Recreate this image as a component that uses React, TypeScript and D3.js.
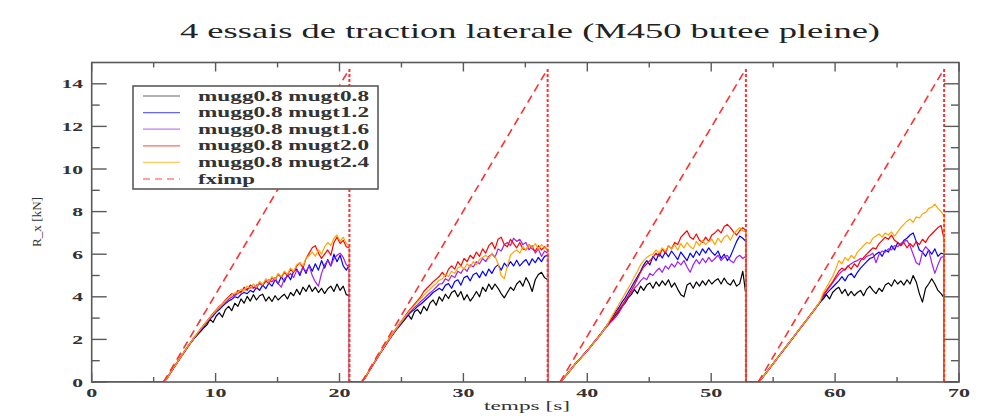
import React, { useEffect, useRef } from "react";
import * as d3 from "d3";

// time grid inside one test (s, from test start)
const relTime = [
  0, 0.25, 0.5, 0.75, 1, 1.25, 1.5, 1.75, 2, 2.25, 2.5, 2.75, 3, 3.25, 3.5, 3.75,
  4, 4.25, 4.5, 4.75, 5, 5.25, 5.5, 5.75, 6, 6.25, 6.5, 6.75, 7, 7.25, 7.5, 7.75,
  8, 8.25, 8.5, 8.75, 9, 9.25, 9.5, 9.75, 10, 10.25, 10.5, 10.75, 11, 11.25, 11.5,
  11.75, 12, 12.25, 12.5, 12.75, 13, 13.25, 13.5, 13.75, 14, 14.25, 14.5, 14.75, 15,
];
const testStarts = [5.8, 21.8, 37.8, 53.8];
const testEnds = [20.8, 36.8, 52.8, 68.8];

const mugt08 = [
  [0, 0.15, 0.38, 0.6, 0.82, 1.04, 1.26, 1.47, 1.68, 1.88, 2.06, 2.22, 2.38, 2.55, 2.68, 2.95, 2.8, 3.1, 3.25, 3.05, 3.4, 3.55, 3.35, 3.7, 3.55, 3.9, 3.7, 4.02, 3.8, 4.1, 3.85, 4.05, 4.12, 3.8, 4.0, 3.78, 4.05, 3.85, 4.0, 4.12, 3.9, 4.2, 4.05, 4.35, 4.1, 4.45, 4.25, 4.55, 4.25, 4.45, 4.2, 4.4, 4.15, 4.38, 4.5, 4.25, 4.6, 4.3, 4.5, 4.1, 4.05],
  [0, 0.18, 0.42, 0.66, 0.9, 1.13, 1.36, 1.58, 1.8, 2.02, 2.22, 2.42, 2.6, 2.78, 2.95, 3.15, 2.95, 3.3, 3.4, 3.2, 3.55, 3.35, 3.7, 3.85, 3.6, 4.0, 3.8, 4.12, 3.92, 4.2, 4.3, 4.0, 4.25, 3.85, 4.1, 3.8, 4.0, 4.25, 4.0, 4.45, 4.25, 4.6, 4.35, 4.6, 4.4, 4.15, 3.95, 4.2, 4.45, 4.3, 4.6, 4.75, 4.5, 4.9, 4.65, 4.25, 4.8, 5.05, 5.15, 4.9, 4.8],
  [0, 0.14, 0.32, 0.5, 0.68, 0.86, 1.02, 1.18, 1.34, 1.5, 1.68, 1.86, 2.04, 2.22, 2.42, 2.6, 2.78, 2.95, 3.15, 3.3, 3.55, 3.7, 3.95, 4.1, 4.35, 4.15, 4.5, 4.3, 4.55, 4.65, 4.4, 4.7, 4.5, 4.75, 4.55, 4.8, 4.45, 4.65, 4.35, 4.1, 4.0, 4.55, 4.65, 4.4, 4.7, 4.5, 4.75, 4.55, 4.8, 4.6, 4.75, 4.85, 4.6, 4.88, 4.65, 4.55, 4.8, 4.5, 4.62, 5.2, 4.1],
  [0, 0.15, 0.33, 0.52, 0.71, 0.9, 1.09, 1.28, 1.47, 1.66, 1.85, 2.04, 2.23, 2.42, 2.61, 2.8, 2.99, 3.18, 3.37, 3.56, 3.75, 3.9, 4.1, 3.9, 4.2, 4.35, 4.45, 4.15, 4.35, 4.05, 4.25, 4.05, 4.2, 4.3, 4.05, 4.35, 4.5, 4.3, 4.15, 4.4, 4.25, 4.55, 4.65, 4.5, 4.8, 4.6, 4.75, 4.55, 4.8, 4.6, 5.0, 4.7, 4.15, 3.75, 4.4, 4.6, 4.85, 4.6, 4.3, 4.15, 3.95],
];
const mugt12 = [
  [0, 0.15, 0.38, 0.6, 0.82, 1.04, 1.26, 1.47, 1.68, 1.89, 2.08, 2.26, 2.44, 2.6, 2.78, 2.95, 3.1, 3.28, 3.4, 3.55, 3.68, 3.8, 3.88, 4.0, 3.95, 4.12, 4.2, 4.15, 4.3, 4.22, 4.45, 4.3, 4.55, 4.38, 4.65, 4.5, 4.8, 4.6, 4.95, 4.7, 5.05, 4.8, 5.2, 5.3, 5.0, 5.4, 5.1, 5.5, 5.2, 5.55, 5.25, 5.7, 5.35, 5.75, 5.45, 6.0, 5.65, 5.95, 5.45, 5.25, 5.5],
  [0, 0.18, 0.43, 0.67, 0.91, 1.14, 1.37, 1.6, 1.82, 2.04, 2.25, 2.45, 2.65, 2.84, 3.0, 3.15, 3.3, 3.4, 3.55, 3.65, 3.78, 3.92, 4.05, 4.2, 4.3, 4.4, 4.3, 4.55, 4.62, 4.4, 4.72, 4.8, 4.55, 4.9, 4.98, 4.75, 5.05, 5.12, 4.9, 5.2, 4.98, 5.3, 5.1, 5.38, 5.5, 5.25, 5.58, 5.4, 5.65, 5.45, 5.72, 5.45, 5.62, 5.75, 5.48, 5.78, 5.6, 5.85, 5.65, 5.9, 5.95],
  [0, 0.13, 0.31, 0.5, 0.69, 0.87, 1.03, 1.19, 1.35, 1.52, 1.7, 1.88, 2.06, 2.24, 2.44, 2.64, 2.85, 3.05, 3.3, 3.5, 3.75, 3.95, 4.2, 4.45, 4.7, 4.95, 5.2, 5.5, 5.7, 5.5, 5.9, 5.7, 6.05, 5.82, 6.1, 5.88, 6.15, 5.95, 5.75, 6.1, 5.9, 5.7, 6.05, 5.85, 6.15, 5.95, 6.25, 6.05, 6.3, 6.1, 5.95, 6.15, 5.8, 6.0, 5.7, 5.9, 6.25, 6.6, 6.85, 6.75, 6.6],
  [0, 0.14, 0.32, 0.51, 0.7, 0.89, 1.08, 1.27, 1.46, 1.65, 1.84, 2.03, 2.22, 2.41, 2.6, 2.79, 2.98, 3.17, 3.36, 3.55, 3.76, 4.0, 4.15, 4.3, 4.45, 4.6, 4.75, 4.95, 4.75, 5.0, 5.1, 4.9, 5.15, 5.35, 5.5, 5.65, 5.8, 5.85, 6.0, 6.1, 5.9, 6.2, 6.1, 6.4, 6.2, 6.55, 6.4, 6.65, 6.75, 6.9, 7.0, 6.6, 6.2, 6.1, 5.9, 6.2, 6.0, 6.25, 5.9, 6.05, 6.0],
];
const mugt16 = [
  [0, 0.14, 0.37, 0.6, 0.82, 1.05, 1.27, 1.48, 1.7, 1.9, 2.1, 2.28, 2.46, 2.64, 2.82, 3.0, 3.16, 3.32, 3.48, 3.6, 3.75, 3.88, 3.98, 4.08, 4.15, 4.25, 4.3, 4.38, 4.45, 4.4, 4.55, 4.62, 4.55, 4.72, 4.8, 4.7, 4.9, 4.62, 4.45, 4.85, 4.95, 5.1, 4.9, 5.25, 5.1, 5.35, 5.2, 5.45, 5.0, 4.7, 4.5, 5.1, 5.5, 5.7, 5.45, 5.8, 5.95, 6.05, 5.85, 5.5, 5.4],
  [0, 0.18, 0.43, 0.67, 0.9, 1.13, 1.36, 1.58, 1.8, 2.02, 2.23, 2.44, 2.64, 2.84, 3.02, 3.2, 3.35, 3.5, 3.62, 3.78, 3.9, 4.05, 4.18, 4.3, 4.45, 4.6, 4.62, 4.85, 4.75, 5.0, 4.9, 5.2, 5.1, 5.35, 5.2, 5.5, 5.4, 5.65, 5.55, 5.8, 5.65, 5.9, 6.0, 5.85, 6.25, 6.15, 6.45, 6.55, 6.4, 6.75, 6.6, 6.7, 6.45, 6.55, 6.2, 6.4, 6.05, 6.25, 5.9, 6.15, 6.05],
  [0, 0.14, 0.33, 0.51, 0.69, 0.86, 1.01, 1.17, 1.33, 1.49, 1.67, 1.85, 2.02, 2.2, 2.4, 2.58, 2.75, 2.9, 3.05, 3.25, 3.5, 3.75, 4.0, 4.2, 4.4, 4.55, 4.75, 4.9, 4.8, 5.1, 5.0, 5.2, 5.35, 5.15, 5.45, 5.3, 5.55, 5.4, 5.65, 5.5, 5.7, 5.4, 5.15, 5.5, 5.75, 5.55, 5.8, 5.6, 5.85, 5.65, 5.8, 5.95, 5.7, 5.85, 5.95, 5.7, 5.6, 5.85, 5.95, 5.8, 5.9],
  [0, 0.15, 0.34, 0.53, 0.72, 0.91, 1.1, 1.29, 1.48, 1.67, 1.86, 2.05, 2.24, 2.43, 2.62, 2.81, 3.0, 3.19, 3.38, 3.57, 3.78, 4.05, 4.25, 4.45, 4.65, 4.85, 5.05, 5.2, 5.3, 5.45, 5.55, 5.65, 5.7, 5.8, 5.75, 5.9, 5.95, 6.05, 5.6, 6.0, 6.15, 6.1, 6.25, 6.2, 6.4, 6.35, 6.5, 6.6, 6.65, 6.4, 6.0, 5.6, 5.5, 6.1, 6.35, 6.2, 5.6, 5.1, 5.5, 5.85, 5.9],
];
const mugt20 = [
  [0, 0.16, 0.39, 0.62, 0.84, 1.06, 1.28, 1.5, 1.7, 1.92, 2.12, 2.3, 2.5, 2.68, 2.86, 3.04, 3.22, 3.38, 3.55, 3.68, 3.85, 4.0, 4.15, 4.05, 4.3, 4.2, 4.45, 4.3, 4.55, 4.45, 4.4, 4.68, 4.55, 4.75, 4.62, 4.9, 4.8, 5.05, 4.9, 5.15, 5.0, 5.3, 5.15, 5.45, 5.6, 5.35, 5.8, 6.05, 6.3, 6.4, 6.05, 5.8, 6.0, 6.2, 5.95, 6.55, 6.8, 6.5, 6.65, 6.35, 6.3],
  [0, 0.19, 0.44, 0.68, 0.92, 1.16, 1.39, 1.62, 1.85, 2.07, 2.28, 2.5, 2.7, 2.9, 3.1, 3.3, 3.48, 3.65, 3.82, 4.0, 4.25, 4.4, 4.55, 4.7, 4.82, 4.95, 5.15, 4.95, 5.3, 5.45, 5.3, 5.65, 5.45, 5.8, 5.65, 5.95, 5.8, 6.1, 5.9, 6.25, 6.05, 6.4, 6.55, 6.25, 6.7, 6.8, 6.45, 6.35, 6.7, 6.5, 6.3, 6.55, 6.25, 6.2, 6.45, 6.25, 6.15, 6.4, 6.2, 6.35, 6.2],
  [0, 0.15, 0.32, 0.5, 0.67, 0.85, 1.02, 1.18, 1.35, 1.51, 1.69, 1.87, 2.05, 2.23, 2.43, 2.63, 2.8, 3.0, 3.2, 3.4, 3.6, 3.82, 4.05, 4.3, 4.55, 4.85, 5.15, 5.4, 5.55, 5.7, 5.85, 6.05, 5.9, 6.25, 6.05, 6.4, 6.25, 6.55, 6.45, 6.8, 6.95, 7.1, 6.8, 6.7, 6.95, 6.65, 6.55, 6.8, 6.6, 6.9, 7.0, 7.15, 7.0, 7.3, 7.4, 7.25, 7.05, 6.9, 7.1, 7.25, 7.1],
  [0, 0.16, 0.33, 0.51, 0.7, 0.9, 1.1, 1.28, 1.46, 1.66, 1.84, 2.04, 2.22, 2.42, 2.6, 2.8, 2.98, 3.18, 3.36, 3.56, 3.78, 4.1, 4.3, 4.5, 4.7, 4.95, 5.2, 5.35, 5.25, 5.45, 5.3, 5.55, 5.4, 5.7, 5.85, 6.0, 6.15, 6.3, 6.25, 6.5, 6.65, 6.8, 6.7, 6.9, 6.65, 6.55, 6.4, 6.55, 6.3, 6.5, 6.35, 6.6, 6.45, 6.7, 6.55, 6.8, 6.95, 7.1, 7.25, 7.35, 6.7],
];
const mugt24 = [
  [0, 0.15, 0.38, 0.61, 0.83, 1.05, 1.27, 1.49, 1.7, 1.91, 2.11, 2.3, 2.49, 2.67, 2.85, 3.02, 3.2, 3.36, 3.52, 3.66, 3.82, 3.95, 4.08, 4.18, 4.2, 4.35, 4.28, 4.5, 4.38, 4.6, 4.45, 4.72, 4.58, 4.85, 4.7, 4.95, 4.8, 5.1, 4.95, 5.2, 5.05, 5.35, 5.2, 5.5, 5.6, 5.45, 5.8, 5.95, 6.1, 5.9, 6.2, 6.0, 6.35, 6.55, 6.4, 6.75, 6.9, 6.6, 6.8, 6.5, 6.4],
  [0, 0.19, 0.44, 0.68, 0.92, 1.15, 1.38, 1.61, 1.84, 2.06, 2.27, 2.48, 2.68, 2.88, 3.08, 3.26, 3.44, 3.6, 3.76, 3.92, 4.08, 4.22, 4.35, 4.5, 4.62, 4.78, 4.85, 5.05, 4.95, 5.2, 5.1, 5.35, 5.45, 5.3, 5.55, 5.4, 5.65, 5.5, 5.75, 5.85, 5.95, 5.8, 6.05, 5.9, 5.55, 5.0, 4.85, 5.45, 5.95, 6.1, 6.2, 6.05, 6.35, 6.2, 6.45, 6.3, 6.5, 6.25, 6.45, 6.3, 6.25],
  [0, 0.14, 0.32, 0.5, 0.68, 0.86, 1.02, 1.18, 1.34, 1.5, 1.68, 1.86, 2.04, 2.22, 2.42, 2.62, 2.9, 3.15, 3.4, 3.65, 3.9, 4.15, 4.4, 4.65, 4.95, 5.2, 5.5, 5.7, 5.85, 5.95, 6.0, 6.2, 6.05, 6.3, 6.15, 6.4, 6.25, 6.45, 6.2, 6.5, 6.3, 6.55, 6.35, 6.25, 6.6, 6.4, 6.65, 6.45, 6.6, 6.7, 6.45, 6.75, 6.55, 6.8, 6.9, 6.65, 6.95, 7.1, 7.25, 7.1, 7.05],
  [0, 0.15, 0.33, 0.52, 0.71, 0.9, 1.09, 1.28, 1.47, 1.66, 1.85, 2.04, 2.23, 2.42, 2.61, 2.8, 2.99, 3.18, 3.37, 3.56, 3.8, 4.2, 4.45, 4.7, 4.95, 5.3, 5.7, 5.55, 5.85, 5.7, 5.95, 5.8, 6.1, 6.25, 6.4, 6.55, 6.5, 6.75, 6.85, 6.95, 6.8, 7.0, 6.9, 7.05, 6.85, 7.05, 7.25, 7.4, 7.55, 7.65, 7.5, 7.75, 7.7, 7.9, 7.95, 8.15, 8.2, 8.35, 8.15, 8.0, 7.8],
];

// imposed force (dashed), as drawn
const fximpTime = [0, 5.8, 20.8, 20.8, 21.8, 36.8, 36.8, 37.8, 52.8, 52.8, 53.8, 68.8, 68.8, 70];
const fximpValue = [0, 0, 14.7, 0, 0, 14.7, 0, 0, 14.7, 0, 0, 14.7, 0, 0];

const seriesLabels = ["mugg0.8 mugt0.8", "mugg0.8 mugt1.2", "mugg0.8 mugt1.6", "mugg0.8 mugt2.0", "mugg0.8 mugt2.4", "fximp"];
const seriesColors = ["#000000", "#0000ff", "#a020f0", "#ff0000", "#ffa500", "#ff3030"];
const xMajor = [0, 10, 20, 30, 40, 50, 60, 70];
const xMinor = [5, 15, 25, 35, 45, 55, 65];
const yMajor = [0, 2, 4, 6, 8, 10, 12, 14];
const yMinor = [1, 3, 5, 7, 9, 11, 13];

const serif = "Liberation Serif, Times New Roman, serif";

const App = () => {
  const ref = useRef(null);

  useEffect(() => {
    document.body.style.margin = "0";
    const width = 987;
    const height = 417;
    const x = d3.scaleLinear().domain([0, 70]).range([91.7, 959]);
    const y = d3.scaleLinear().domain([0, 15]).range([382, 62.5]);

    d3.select(ref.current).selectAll("*").remove();
    const svg = d3
      .select(ref.current)
      .append("svg")
      .attr("width", width)
      .attr("height", height)
      .attr("font-family", serif)
      .style("display", "block")
      .style("background", "#fff");

    svg.append("defs").append("clipPath").attr("id", "plot")
      .append("rect")
      .attr("x", x(0)).attr("y", y(15) - 2)
      .attr("width", x(70) - x(0)).attr("height", y(0) - y(15) + 2);

    // title
    svg.append("text")
      .attr("x", 180).attr("y", 38)
      .attr("textLength", 700).attr("lengthAdjust", "spacingAndGlyphs")
      .attr("font-size", 21).attr("fill", "#222")
      .text("4 essais de traction laterale (M450 butee pleine)");

    const line = d3.line().x((d) => x(d[0])).y((d) => y(d[1]));
    const plot = svg.append("g").attr("clip-path", "url(#plot)");

    const allSeries = [mugt08, mugt12, mugt16, mugt20, mugt24];
    allSeries.forEach((tests, k) => {
      const pts = [[0, 0]];
      tests.forEach((vals, i) => {
        vals.forEach((v, j) => pts.push([testStarts[i] + relTime[j], v]));
        pts.push([testEnds[i], 0]);
      });
      pts.push([70, 0]);
      plot.append("path")
        .attr("d", line(pts))
        .attr("fill", "none")
        .attr("stroke", seriesColors[k])
        .attr("stroke-width", 1.2)
        .attr("stroke-linejoin", "round");
    });

    // fximp: ramps dashed, drops finely dotted
    for (let i = 0; i < fximpTime.length - 1; i++) {
      const a = [fximpTime[i], fximpValue[i]];
      const b = [fximpTime[i + 1], fximpValue[i + 1]];
      const vertical = a[0] === b[0];
      plot.append("path")
        .attr("d", line([a, b]))
        .attr("fill", "none")
        .attr("stroke", seriesColors[5])
        .attr("stroke-width", vertical ? 2 : 1.6)
        .attr("stroke-dasharray", vertical ? "3,2" : "8,5");
    }

    // frame
    const axisColor = "#5a5a5a";
    svg.append("rect")
      .attr("x", x(0)).attr("y", y(15))
      .attr("width", x(70) - x(0)).attr("height", y(0) - y(15))
      .attr("fill", "none").attr("stroke", axisColor).attr("stroke-width", 1.6);

    const ticks = svg.append("g").attr("stroke", axisColor).attr("stroke-width", 1.4);
    const xt = (vals, len) => vals.forEach((v) => {
      ticks.append("line").attr("x1", x(v)).attr("x2", x(v)).attr("y1", y(0)).attr("y2", y(0) - len);
      ticks.append("line").attr("x1", x(v)).attr("x2", x(v)).attr("y1", y(15)).attr("y2", y(15) + len);
    });
    const yt = (vals, len) => vals.forEach((v) => {
      ticks.append("line").attr("y1", y(v)).attr("y2", y(v)).attr("x1", x(0)).attr("x2", x(0) + len);
      ticks.append("line").attr("y1", y(v)).attr("y2", y(v)).attr("x1", x(70)).attr("x2", x(70) - len);
    });
    xt(xMajor, 9);
    xt(xMinor, 5);
    yt(yMajor, 15);
    yt(yMinor, 8);

    const labels = svg.append("g")
      .attr("font-size", 12).attr("font-weight", "bold").attr("fill", "#333");
    xMajor.forEach((v) => {
      const s = String(v);
      labels.append("text")
        .attr("x", x(v)).attr("y", 396.5).attr("text-anchor", "middle")
        .attr("textLength", s.length * 11).attr("lengthAdjust", "spacingAndGlyphs")
        .text(s);
    });
    yMajor.forEach((v) => {
      const s = String(v);
      labels.append("text")
        .attr("x", 83).attr("y", y(v) + 4.5).attr("text-anchor", "end")
        .attr("textLength", s.length * 10.8).attr("lengthAdjust", "spacingAndGlyphs")
        .text(s);
    });

    // axis titles
    svg.append("text")
      .attr("x", 527).attr("y", 410).attr("text-anchor", "middle")
      .attr("textLength", 86).attr("lengthAdjust", "spacingAndGlyphs")
      .attr("font-size", 13).attr("fill", "#333")
      .text("temps [s]");
    svg.append("text")
      .attr("transform", "translate(41,222) rotate(-90)")
      .attr("text-anchor", "middle")
      .attr("textLength", 50).attr("lengthAdjust", "spacingAndGlyphs")
      .attr("font-size", 13).attr("fill", "#333")
      .text("R_x [kN]");

    // legend
    const lg = svg.append("g");
    lg.append("rect")
      .attr("x", 133).attr("y", 86).attr("width", 245).attr("height", 103)
      .attr("fill", "#fff").attr("stroke", axisColor).attr("stroke-width", 1.6);
    seriesLabels.forEach((label, i) => {
      const cy = 96 + i * 16.6;
      lg.append("line")
        .attr("x1", 143).attr("x2", 180).attr("y1", cy).attr("y2", cy)
        .attr("stroke", seriesColors[i]).attr("stroke-opacity", 0.6)
        .attr("stroke-width", i === 5 ? 1.6 : 1.2)
        .attr("stroke-dasharray", i === 5 ? "7,5" : null);
      lg.append("text")
        .attr("x", 198).attr("y", cy + 4.5)
        .attr("textLength", i === 5 ? 57 : 171).attr("lengthAdjust", "spacingAndGlyphs")
        .attr("font-size", 14).attr("font-weight", "bold").attr("fill", "#333")
        .text(label);
    });
  }, []);

  return <div ref={ref}></div>;
};

export default App;
